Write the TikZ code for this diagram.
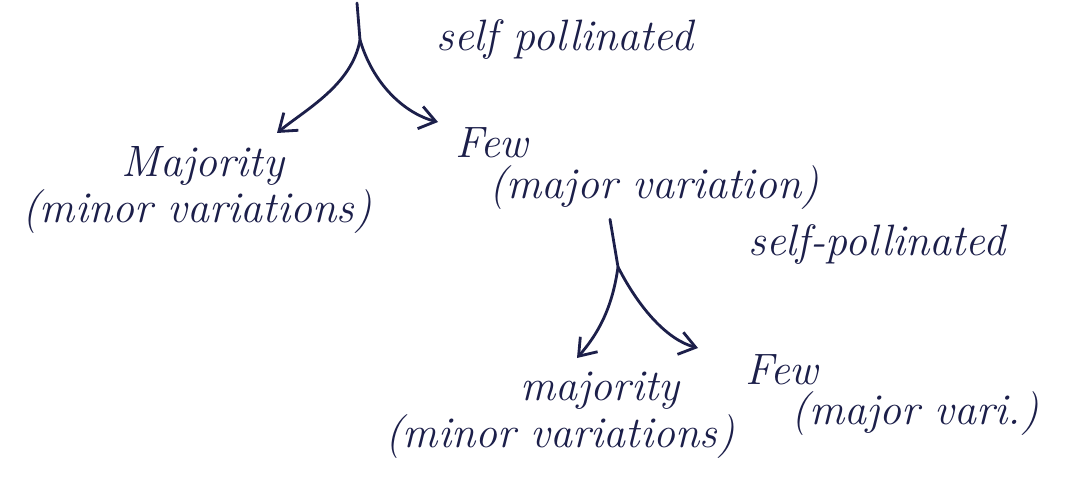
\documentclass[tikz,border=0pt]{standalone}
\usetikzlibrary{arrows.meta}
\definecolor{ink}{HTML}{1C1F4A}
\begin{document}
\begin{tikzpicture}[x=0.02cm,y=-0.02cm,
  lbl/.style={text=ink,font=\fontsize{25}{29}\selectfont\itshape,inner sep=0pt},
  branch/.style={draw=ink,line width=1.6pt,line cap=round},
  arr/.style={branch,-{Straight Barb[length=9pt,width=13pt,line width=1.6pt]}}]
\useasboundingbox (0,0) rectangle (1087,479);
% labels
\node[lbl] (sp1) at (565,40) {self pollinated};
\node[lbl] (maj1) at (203,166) {Majority};
\node[lbl] (min1) at (197,212) {(minor variations)};
\node[lbl] (few1) at (492,143) {Few};
\node[lbl] (mav1) at (654,188) {(major variation)};
\node[lbl] (sp2) at (877,245) {self-pollinated};
\node[lbl] (maj2) at (600,391) {majority};
\node[lbl] (min2) at (560,437) {(minor variations)};
\node[lbl] (few2) at (782,370) {Few};
\node[lbl] (mav2) at (915,414) {(major vari.)};
% branch points
\coordinate (t1) at (357,3);
\coordinate (s1) at (360,40);
\coordinate (e1l) at (277,133);
\coordinate (e1r) at (438,122);
\coordinate (s2) at (618,267);
\coordinate (e2l) at (577,358);
\coordinate (e2r) at (698,348);
\path (mav1.south) ++(-44,9) coordinate (t2);
\draw[branch] (t1) -- (s1);
\draw[arr] (s1) .. controls (352,85) and (305,110) .. (e1l);
\draw[arr] (s1) .. controls (375,90) and (410,115) .. (e1r);
\draw[branch] (t2) -- (s2);
\draw[arr] (s2) .. controls (612,310) and (597,335) .. (e2l);
\draw[arr] (s2) .. controls (640,310) and (668,340) .. (e2r);
\end{tikzpicture}
\end{document}
